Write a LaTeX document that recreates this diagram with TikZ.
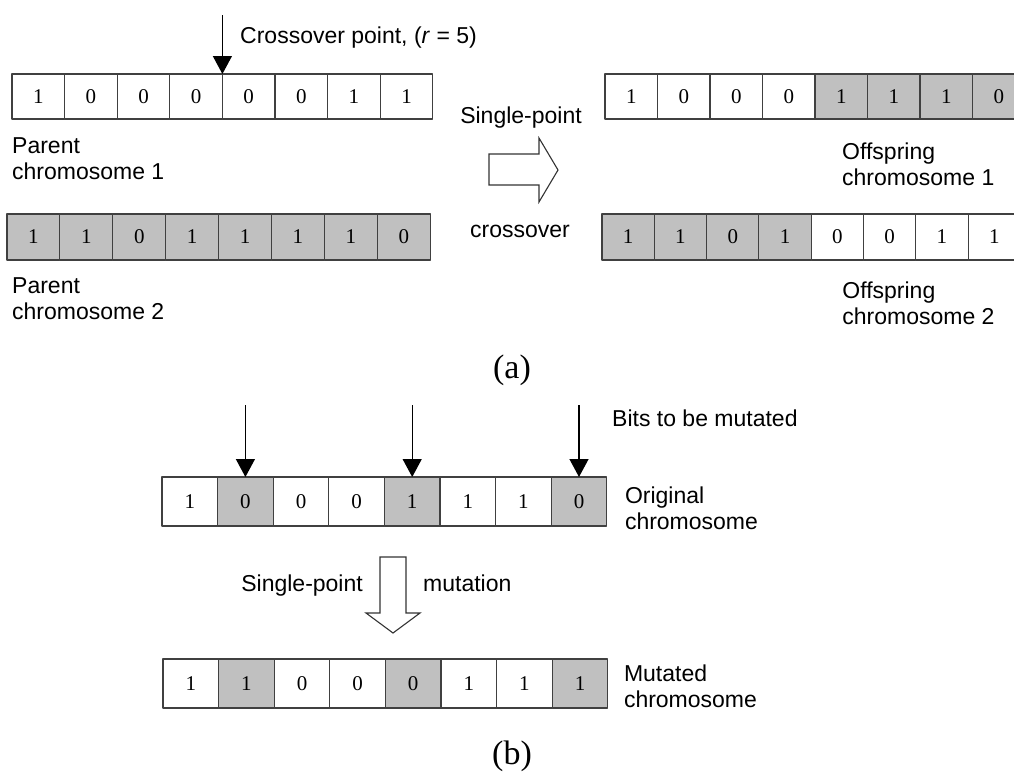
\documentclass[tikz,border=0pt]{standalone}
\usepackage{fontspec}
\setmainfont{Liberation Sans}
\newfontfamily\bitfont{Liberation Serif}
\usetikzlibrary{arrows.meta,positioning}
\definecolor{cellgray}{RGB}{192,192,192}
\tikzset{
  cell/.style={draw=black!75, line width=1.1pt, inner sep=0pt, outer sep=0pt,
    font=\bitfont\fontsize{21}{21}\selectfont},
  w/.style={fill=white},
  g/.style={fill=cellgray},
  lbl/.style={inner sep=0pt, align=left, font=\fontsize{23}{26}\selectfont},
  pointer/.style={->, line width=1.3pt},
  hollow/.style={draw=black!80, line width=1.1pt, fill=white, line join=miter},
  caption/.style={inner sep=0pt, font=\bitfont\fontsize{34}{34}\selectfont}
}
\begin{document}
\begin{tikzpicture}[x=1pt, y=-1pt, >={Triangle[length=18pt,width=19pt]}, line join=round]
  \useasboundingbox (0,0) rectangle (1014,774);
  \clip (0,0) rectangle (1014,774);
  % (a) single-point crossover
  \foreach \v/\s [count=\i] in {1/w,0/w,0/w,0/w,0/w,0/w,1/w,1/w}
    \node[cell,\s,minimum width=52.6pt,minimum height=45pt] (p1-\i) at ({12+(\i-0.5)*52.6},96.5) {\v};
  \foreach \v/\s [count=\i] in {1/g,1/g,0/g,1/g,1/g,1/g,1/g,0/g}
    \node[cell,\s,minimum width=52.9pt,minimum height=46pt] (p2-\i) at ({7+(\i-0.5)*52.9},237) {\v};
  \foreach \v/\s [count=\i] in {1/w,0/w,0/w,0/w,1/g,1/g,1/g,0/g}
    \node[cell,\s,minimum width=52.5pt,minimum height=45pt] (o1-\i) at ({605+(\i-0.5)*52.5},96.5) {\v};
  \foreach \v/\s [count=\i] in {1/g,1/g,0/g,1/g,0/w,0/w,1/w,1/w}
    \node[cell,\s,minimum width=52.3pt,minimum height=46pt] (o2-\i) at ({602+(\i-0.5)*52.3},237) {\v};

  \coordinate (xtop) at ([yshift=59pt]p1-5.north west);
  \draw[pointer] (xtop) -- (p1-5.north west);
  \node[lbl, anchor=base west] (xlbl) at (240,43) {Crossover point, (\textit{r} = 5)};

  \node[lbl, below right=18pt and 0pt of p1-1.south west] (lp1) {Parent\\chromosome 1};
  \node[lbl, below right=17pt and 5pt of p2-1.south west] (lp2) {Parent\\chromosome 2};
  \node[lbl, below right=24pt and 27pt of o1-5.south west] (lo1) {Offspring\\chromosome 1};
  \node[lbl, below right=22pt and 31pt of o2-5.south west] (lo2) {Offspring\\chromosome 2};

  \node[lbl, anchor=base] (sp1) at (521,123) {Single-point};
  \node[lbl, anchor=base] (cr1) at (520,237) {crossover};
  \draw[hollow] (489,154) -- (539,154) -- (539,138) -- (558,170) -- (539,202) -- (539,185) -- (489,185) -- cycle;

  \node[caption, anchor=base] (capa) at (512,378) {(a)};

  % (b) single-point mutation
  \foreach \v/\s [count=\i] in {1/w,0/g,0/w,0/w,1/g,1/w,1/w,0/g}
    \node[cell,\s,minimum width=55.6pt,minimum height=49pt] (b1-\i) at ({162+(\i-0.5)*55.6},501.5) {\v};
  \foreach \v/\s [count=\i] in {1/w,1/g,0/w,0/w,0/g,1/w,1/w,1/g}
    \node[cell,\s,minimum width=55.6pt,minimum height=49pt] (b2-\i) at ({163+(\i-0.5)*55.6},683.5) {\v};

  \foreach \k in {2,5,8}{
    \coordinate (m\k) at ([yshift=72pt]b1-\k.north);
    \draw[pointer] (m\k) -- (b1-\k.north);
  }
  \node[lbl, anchor=base west] (bits) at (612,426) {Bits to be mutated};
  \node[lbl, below right=10pt and 18pt of b1-8.north east] (lorig) {Original\\chromosome};
  \node[lbl, below right=6pt and 16pt of b2-8.north east] (lmut) {Mutated\\chromosome};

  \draw[hollow] (380,557) -- (406,557) -- (406,613) -- (420,613) -- (393,633) -- (366,613) -- (380,613) -- cycle;
  \node[lbl, anchor=base east] (sp2) at (363,591) {Single-point};
  \node[lbl, anchor=base west] (mu2) at (423,591) {mutation};

  \node[caption, anchor=base] (capb) at (512,764) {(b)};
\end{tikzpicture}
\end{document}
